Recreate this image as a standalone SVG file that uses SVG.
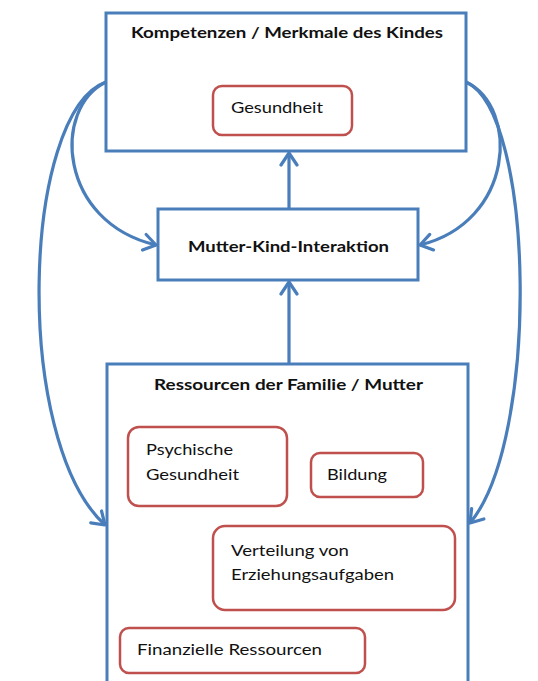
<svg xmlns="http://www.w3.org/2000/svg" width="538" height="681" viewBox="0 0 538 681">
<defs>
<marker id="ah" markerUnits="userSpaceOnUse" viewBox="-14 -10 16 20" markerWidth="16" markerHeight="20" refX="0" refY="0" orient="auto">
<path d="M-12,-8 L0,0 L-12,8" fill="none" stroke="#4a7ebb" stroke-width="3.2" stroke-linecap="round" stroke-linejoin="round"/>
</marker>
</defs>
<style>
.box{fill:#fff;stroke:#4a7ebb;stroke-width:3}
.sub{fill:#fff;stroke:#c0504d;stroke-width:2.5}
.t{font-family:Lato,"Open Sans","Liberation Sans",sans-serif;font-size:16px;fill:#111}
.b{font-weight:bold}
.c{fill:none;stroke:#4a7ebb;stroke-width:3.2}
</style>
<rect width="538" height="681" fill="#fff"/>
<g id="kompetenzen">
<rect class="box" x="106" y="13" width="360" height="138"/>
<text class="t b" x="131" y="38" textLength="312" lengthAdjust="spacingAndGlyphs">Kompetenzen / Merkmale des Kindes</text>
</g>
<g id="gesundheit">
<rect class="sub" x="213" y="86" width="139" height="49" rx="9"/>
<text class="t" x="231" y="113" textLength="92" lengthAdjust="spacingAndGlyphs">Gesundheit</text>
</g>
<g id="interaktion">
<rect class="box" x="158" y="209" width="260" height="71"/>
<text class="t b" x="188" y="252" textLength="201" lengthAdjust="spacingAndGlyphs">Mutter-Kind-Interaktion</text>
</g>
<g id="ressourcen">
<rect class="box" x="107" y="364" width="361" height="330"/>
<text class="t b" x="154" y="390" textLength="269" lengthAdjust="spacingAndGlyphs">Ressourcen der Familie / Mutter</text>
</g>
<g id="psychische">
<rect class="sub" x="128" y="427" width="159" height="79" rx="11"/>
<text class="t" x="146" y="455" textLength="87" lengthAdjust="spacingAndGlyphs">Psychische</text>
<text class="t" x="146" y="480" textLength="93" lengthAdjust="spacingAndGlyphs">Gesundheit</text>
</g>
<g id="bildung">
<rect class="sub" x="311" y="453" width="112" height="44" rx="9"/>
<text class="t" x="327" y="480" textLength="60" lengthAdjust="spacingAndGlyphs">Bildung</text>
</g>
<g id="verteilung">
<rect class="sub" x="213" y="526" width="242" height="84" rx="12"/>
<text class="t" x="231" y="556" textLength="118" lengthAdjust="spacingAndGlyphs">Verteilung von</text>
<text class="t" x="231" y="580" textLength="163" lengthAdjust="spacingAndGlyphs">Erziehungsaufgaben</text>
</g>
<g id="finanzielle">
<rect class="sub" x="120" y="628" width="245" height="45" rx="9"/>
<text class="t" x="137" y="655" textLength="185" lengthAdjust="spacingAndGlyphs">Finanzielle Ressourcen</text>
</g>
<g id="connectors">
<path class="c" d="M289,209 L289,153" marker-end="url(#ah)"/>
<path class="c" d="M289,364 L289,282" marker-end="url(#ah)"/>
<path class="c" d="M106,82 C52,108 58,222 156,245" marker-end="url(#ah)"/>
<path class="c" d="M106,82 C22,112 12,440 105,525" marker-end="url(#ah)"/>
<path class="c" d="M466,82 C520,108 514,222 420,245" marker-end="url(#ah)"/>
<path class="c" d="M466,82 C535,112 540,440 470,523" marker-end="url(#ah)"/>
</g>
</svg>
